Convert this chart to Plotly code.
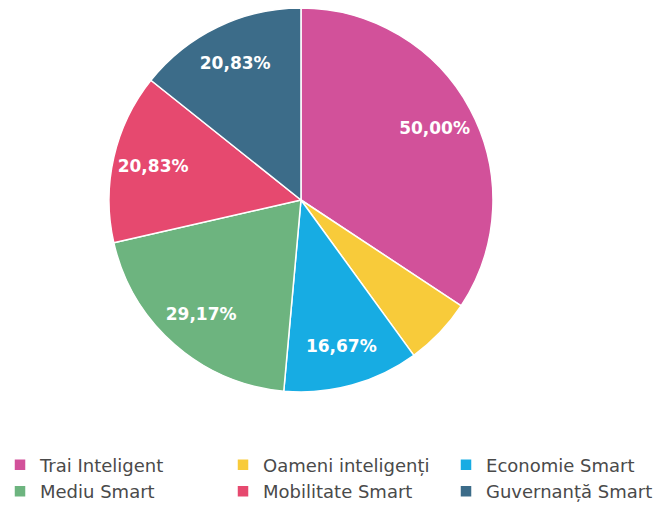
import plotly.graph_objects as go

# slice labels (legend) and values
categories = [
    "Trai Inteligent",
    "Oameni inteligenți",
    "Economie Smart",
    "Mediu Smart",
    "Mobilitate Smart",
    "Guvernanță Smart",
]
values = [50.00, 8.33, 16.67, 29.17, 20.83, 20.83]
# the yellow slice has no label on the chart
show_label = [True, False, True, True, True, True]

colors = ["#D2519A", "#F8CB3A", "#17ACE3", "#6DB47F", "#E6496F", "#3C6C89"]

# page has an 8px body margin, so the pie domain is shifted up/left to compensate
pie_domain = dict(x=[0.1456, 0.7342], y=[0.0, 1.0])

fig = go.Figure()

# the visible pie
fig.add_trace(
    go.Pie(
        labels=categories,
        values=values,
        sort=False,
        direction="clockwise",
        rotation=0,
        marker=dict(colors=colors, line=dict(color="white", width=1.5)),
        textinfo="none",
        hoverinfo="label+value",
        domain=pie_domain,
    )
)

# transparent ring on top, only used to put the labels further out like the original
fig.add_trace(
    go.Pie(
        labels=categories,
        values=values,
        sort=False,
        direction="clockwise",
        rotation=0,
        hole=0.58,
        marker=dict(colors=["rgba(0,0,0,0)"] * len(values), line=dict(width=0)),
        texttemplate=["%{value:.2f}%" if s else "" for s in show_label],
        textposition="inside",
        insidetextorientation="horizontal",
        textfont=dict(family="DejaVu Sans", size=17, color="white", weight="bold"),
        hoverinfo="skip",
        showlegend=False,
        domain=pie_domain,
    )
)

fig.update_layout(
    width=666,
    height=506,
    margin=dict(l=0, r=0, t=0, b=122, autoexpand=False),
    paper_bgcolor="white",
    plot_bgcolor="white",
    separators=",.",
    showlegend=True,
    legend=dict(
        orientation="h",
        x=-0.012,
        xanchor="left",
        y=-0.142,
        yanchor="top",
        entrywidth=178,
        entrywidthmode="pixels",
        itemwidth=30,
        font=dict(family="DejaVu Sans", size=18, color="#4A4A4A"),
        bgcolor="rgba(0,0,0,0)",
    ),
)

fig.write_html("out.html")
